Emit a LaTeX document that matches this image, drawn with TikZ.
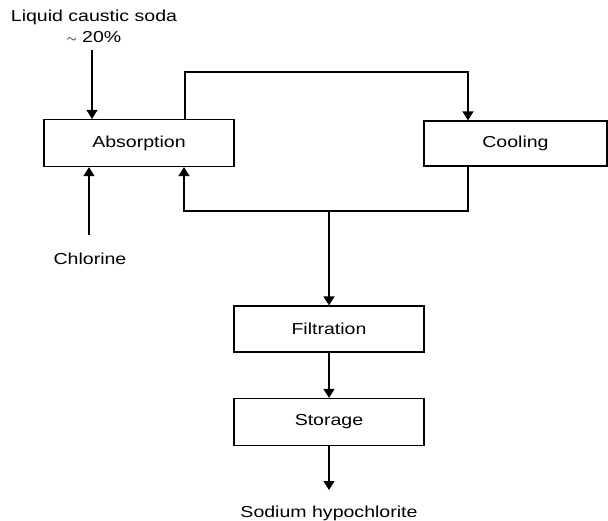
\documentclass[tikz,border=0pt]{standalone}
\usepackage{fontspec}
\setmainfont{Liberation Sans}[FakeStretch=1.23]
\usepackage{tikz}
\usetikzlibrary{arrows.meta}
\pgfdeclarelayer{bg}
\pgfsetlayers{bg,main}

\begin{document}
\begin{tikzpicture}[
        font=\fontsize{11.3}{15}\selectfont,
        unit/.style={draw, line width=0.9pt, inner sep=0pt},
        flow/.style={line width=1.1pt, -{Triangle[length=6.4pt,width=7.8pt]}},
        pipe/.style={line width=1.1pt}]
        \useasboundingbox (0cm, 0cm) rectangle (15.200000cm, -13.025000cm);
        \node (absorb) [unit, minimum width=4.750000cm, minimum height=1.175000cm] at (3.475000cm, -3.575000cm) {Absorption};
        \node (cool) [unit, minimum width=4.575000cm, minimum height=1.125000cm] at (12.887500cm, -3.587500cm) {Cooling};
        \node (filt) [unit, minimum width=4.750000cm, minimum height=1.150000cm] at (8.225000cm, -8.225000cm) {Filtration};
        \node (store) [unit, minimum width=4.750000cm, minimum height=1.175000cm] at (8.225000cm, -10.550000cm) {Storage};
        \node (soda) [align=center] at (2.350000cm, -0.650000cm) {Liquid caustic soda\\{\small$\sim$} 20\%};
        \node (chlor) at (2.250000cm, -6.475000cm) {Chlorine};
        \node (hypo) at (8.225000cm, -12.825000cm) {Sodium hypochlorite};
        \coordinate (sodain) at (2.300000cm, -1.250000cm);
        \coordinate (clin) at (2.225000cm, -5.875000cm);
        \coordinate (ul) at (4.625000cm, -1.800000cm);
        \coordinate (ur) at (11.700000cm, -1.800000cm);
        \coordinate (ll) at (4.600000cm, -5.275000cm);
        \coordinate (lr) at (11.700000cm, -5.275000cm);
        \coordinate (jn) at (8.225000cm, -5.275000cm);
        \coordinate (out) at (8.225000cm, -12.250000cm);
        \begin{pgfonlayer}{bg}
                \draw [flow] (sodain) -- (sodain |- absorb.north);
                \draw [flow] (clin) -- (clin |- absorb.south);
                \draw [flow] (ul |- absorb.north) -- (ul) -- (ur) -- (ur |- cool.north);
                \draw [flow] (lr |- cool.south) -- (lr) -- (ll) -- (ll |- absorb.south);
                \draw [flow] (jn) -- (filt.north);
                \draw [flow] (filt.south) -- (store.north);
                \draw [flow] (store.south) -- (out);
        \end{pgfonlayer}
\end{tikzpicture}
\end{document}
